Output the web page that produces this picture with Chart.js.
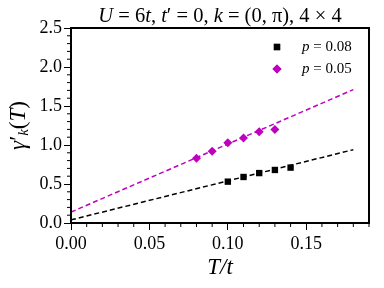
<!DOCTYPE html>
<html>
<head>
  <meta charset="utf-8">
  <title>gamma prime vs T</title>
  <script src="https://cdn.jsdelivr.net/npm/chart.js"></script>
  <style>
    html, body { margin: 0; padding: 0; background: white; }
    #wrap { width: 384px; height: 288px; }
  </style>
</head>
<body>
<div id="wrap"><canvas id="gammaChart" width="384" height="288"></canvas></div>
<script>
  // data
  const tempsP08 = [0.10, 0.11, 0.12, 0.13, 0.14];
  const gammaP08 = [0.53, 0.59, 0.64, 0.68, 0.71];
  const tempsP05 = [0.08, 0.09, 0.10, 0.11, 0.12, 0.13];
  const gammaP05 = [0.83, 0.92, 1.03, 1.09, 1.17, 1.20];
  const fitX = [0, 0.18];
  const fitP08 = [0.04, 0.94];
  const fitP05 = [0.14, 1.71];
  const xTicks = [0, 0.05, 0.10, 0.15];
  const yTicks = [0, 0.5, 1.0, 1.5, 2.0, 2.5];

  const SERIF = "'Liberation Serif', 'DejaVu Serif', serif";
  const MAGENTA = '#bf00bf';

  const toPts = (xs, ys) => xs.map((x, i) => ({ x: x, y: ys[i] }));

  // draw text made of runs: [text, italic, size, dy]
  function drawRuns(ctx, runs, x, y, size, align) {
    const fontOf = r => (r[1] ? 'italic ' : '') + (r[2] || size) + 'px ' + SERIF;
    let total = 0;
    runs.forEach(r => { ctx.font = fontOf(r); total += ctx.measureText(r[0]).width; });
    let cx = align === 'center' ? x - total / 2 : x;
    ctx.textBaseline = 'middle';
    ctx.textAlign = 'left';
    runs.forEach(r => {
      ctx.font = fontOf(r);
      ctx.fillText(r[0], cx, y + (r[3] || 0));
      cx += ctx.measureText(r[0]).width;
    });
  }

  const framePlugin = {
    id: 'frame',
    afterDraw(chart) {
      const ctx = chart.ctx;
      const a = chart.chartArea;
      const xs = chart.scales.x, ys = chart.scales.y;
      ctx.save();
      ctx.strokeStyle = '#000';
      ctx.lineWidth = 1;
      // minor ticks
      for (let i = 0; i <= 19; i++) {
        if (i % 5 === 0) continue;
        const px = xs.getPixelForValue(i / 100);
        ctx.beginPath(); ctx.moveTo(px, a.bottom); ctx.lineTo(px, a.bottom + 4); ctx.stroke();
      }
      for (let i = 0; i <= 25; i++) {
        if (i % 5 === 0) continue;
        const py = ys.getPixelForValue(i / 10);
        ctx.beginPath(); ctx.moveTo(a.left, py); ctx.lineTo(a.left - 4, py); ctx.stroke();
      }
      ctx.lineWidth = 2;
      ctx.strokeRect(a.left, a.top, a.right - a.left, a.bottom - a.top);

      // title
      ctx.fillStyle = '#000';
      drawRuns(ctx, [['U', true], [' = 6', false], ['t', true], [', ', false], ['t', true], ['\u2032 = 0, ', false],
        ['k', true], [' = (0, \u03c0), 4 \u00d7 4', false]], (a.left + a.right) / 2, 17, 20.5, 'center');

      // y axis label, rotated, with subscript k
      ctx.save();
      ctx.translate(19, (a.top + a.bottom) / 2);
      ctx.rotate(-Math.PI / 2);
      drawRuns(ctx, [['\u03b3', true], ['\u2032', false], ['k', true, 15, 5], ['(', false], ['T', true], [')', false]],
        0, 0, 23, 'center');
      ctx.restore();

      // legend
      const items = [
        { label: '0.08', color: '#000', style: 'rect' },
        { label: '0.05', color: MAGENTA, style: 'rectRot' }
      ];
      items.forEach((it, i) => {
        const y = 47 + i * 22;
        ctx.fillStyle = it.color;
        Chart.helpers.drawPoint(ctx, { pointStyle: it.style, radius: 4.5, borderWidth: 0 }, 277, y);
        ctx.fill();
        ctx.fillStyle = '#000';
        drawRuns(ctx, [['p', true], [' = ' + it.label, false]], 302, y, 15, 'left');
      });
      ctx.restore();
    }
  };

  const ctx = document.getElementById('gammaChart').getContext('2d');
  new Chart(ctx, {
    type: 'scatter',
    data: {
      datasets: [
        {
          label: 'p = 0.08',
          data: toPts(tempsP08, gammaP08),
          pointStyle: 'rect',
          pointRadius: 4.5,
          backgroundColor: '#000',
          borderColor: '#000',
          borderWidth: 0
        },
        {
          label: 'p = 0.05',
          data: toPts(tempsP05, gammaP05),
          pointStyle: 'rectRot',
          pointRadius: 4.5,
          backgroundColor: MAGENTA,
          borderColor: MAGENTA,
          borderWidth: 0
        },
        {
          label: 'fit 0.08',
          data: toPts(fitX, fitP08),
          showLine: true,
          pointRadius: 0,
          borderColor: '#000',
          borderWidth: 1.5,
          borderDash: [5, 3]
        },
        {
          label: 'fit 0.05',
          data: toPts(fitX, fitP05),
          showLine: true,
          pointRadius: 0,
          borderColor: MAGENTA,
          borderWidth: 1.5,
          borderDash: [5, 3]
        }
      ]
    },
    options: {
      responsive: false,
      animation: false,
      layout: { padding: { top: 28, right: 15, left: 0, bottom: 0 } },
      plugins: {
        legend: { display: false },
        tooltip: { enabled: false }
      },
      scales: {
        x: {
          type: 'linear',
          min: 0,
          max: 0.19,
          afterFit: s => { s.height = 65; },
          afterBuildTicks: s => { s.ticks = xTicks.map(v => ({ value: v })); },
          grid: { display: true, drawOnChartArea: false, tickLength: 7, color: '#000', tickWidth: 1 },
          border: { display: false },
          ticks: {
            color: '#000',
            padding: 3,
            font: { family: SERIF, size: 18 },
            callback: v => v.toFixed(2)
          },
          title: {
            display: true,
            text: 'T/t',
            color: '#000',
            font: { family: SERIF, size: 23, style: 'italic' },
            padding: { top: 0, bottom: 6 }
          }
        },
        y: {
          type: 'linear',
          min: 0,
          max: 2.5,
          afterFit: s => { s.width = 71; },
          afterBuildTicks: s => { s.ticks = yTicks.map(v => ({ value: v })); },
          grid: { display: true, drawOnChartArea: false, tickLength: 7, color: '#000', tickWidth: 1 },
          border: { display: false },
          ticks: {
            color: '#000',
            padding: 2,
            font: { family: SERIF, size: 18 },
            callback: v => v.toFixed(1)
          },
          title: { display: false }
        }
      }
    },
    plugins: [framePlugin]
  });
</script>
</body>
</html>
